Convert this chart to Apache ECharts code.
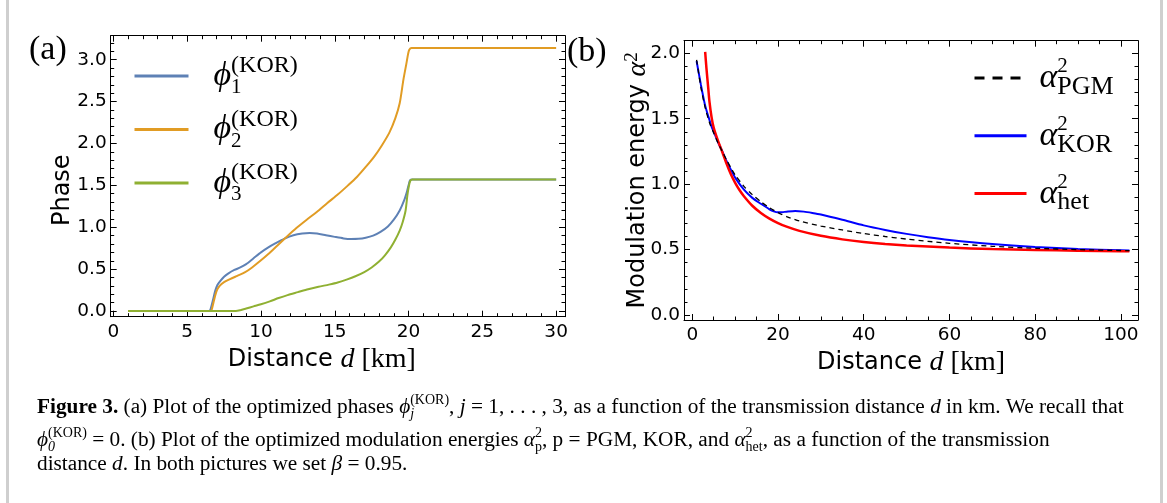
<!DOCTYPE html>
<html><head><meta charset="utf-8">
<script src="https://cdn.jsdelivr.net/npm/echarts@6/dist/echarts.min.js"></script>
<style>html,body{margin:0;padding:0;background:#fff}#c{width:1167px;height:503px}</style>
</head><body><div id="c"></div>
<script>
// ---------- Panel (a): optimized phases ----------
const phi1D = [1, 6.5, 6.6, 6.75, 6.9, 7.05, 7.25, 7.5, 7.8, 8.2, 8.6, 9.0, 9.5, 10.0, 10.5, 11.0, 11.6, 12.2, 12.8, 13.3, 13.8, 14.4, 15.0, 15.6, 16.1, 16.6, 17.1, 17.6, 18.1, 18.6, 19.0, 19.4, 19.7, 19.9, 20.0, 20.1, 20.25, 22, 26, 30];
const phi1V = [0, 0, 0.03, 0.13, 0.24, 0.31, 0.36, 0.41, 0.45, 0.49, 0.52, 0.56, 0.63, 0.70, 0.76, 0.81, 0.865, 0.905, 0.925, 0.93, 0.925, 0.905, 0.885, 0.867, 0.86, 0.862, 0.875, 0.9, 0.945, 1.01, 1.09, 1.2, 1.32, 1.43, 1.5, 1.56, 1.571, 1.571, 1.571, 1.571];
const phi2D = [1, 6.6, 6.7, 6.85, 7.0, 7.2, 7.5, 7.9, 8.4, 8.9, 9.4, 9.9, 10.5, 11.1, 11.75, 12.4, 13.1, 13.8, 14.5, 15.2, 15.9, 16.5, 17.1, 17.7, 18.2, 18.7, 19.1, 19.4, 19.65, 19.85, 19.97, 20.05, 20.2, 22, 26, 30];
const phi2V = [0, 0, 0.04, 0.15, 0.24, 0.3, 0.345, 0.38, 0.42, 0.46, 0.52, 0.59, 0.68, 0.78, 0.887, 0.99, 1.09, 1.185, 1.29, 1.39, 1.50, 1.6, 1.72, 1.85, 1.98, 2.13, 2.3, 2.48, 2.76, 2.95, 3.07, 3.12, 3.1416, 3.1416, 3.1416, 3.1416];
const phi3D = [1, 8.3, 8.6, 9.0, 9.5, 10.0, 10.6, 11.2, 11.8, 12.5, 13.2, 13.9, 14.6, 15.2, 15.8, 16.4, 17.0, 17.5, 18.0, 18.4, 18.8, 19.1, 19.4, 19.6, 19.8, 19.92, 20.02, 20.12, 20.25, 22, 26, 30];
const phi3V = [0, 0, 0.01, 0.03, 0.055, 0.08, 0.115, 0.155, 0.19, 0.225, 0.26, 0.29, 0.315, 0.34, 0.375, 0.415, 0.465, 0.52, 0.59, 0.665, 0.76, 0.85, 0.96, 1.06, 1.2, 1.38, 1.49, 1.555, 1.571, 1.571, 1.571, 1.571];
const aXTicks = [0, 5, 10, 15, 20, 25, 30];
const aYTicks = [0, 0.5, 1.0, 1.5, 2.0, 2.5, 3.0];

// ---------- Panel (b): modulation energies ----------
const pgmD = [1, 2, 3, 4, 5, 6, 7, 8, 9, 10, 12, 14, 16, 18, 20, 22, 25, 30, 35, 40, 45, 50, 55, 60, 70, 80, 90, 100, 102];
const pgmV = [1.95, 1.74, 1.585, 1.47, 1.39, 1.315, 1.25, 1.185, 1.125, 1.07, 0.985, 0.92, 0.865, 0.82, 0.782, 0.752, 0.718, 0.68, 0.65, 0.623, 0.6, 0.58, 0.563, 0.548, 0.525, 0.51, 0.5, 0.493, 0.492];
const korD = [1, 2, 3, 4, 4.5, 5, 6, 7, 8, 9, 10, 12, 14, 16, 18, 19, 20, 21, 22, 24, 26, 28, 30, 35, 40, 45, 50, 55, 60, 70, 80, 90, 100, 102];
const korV = [1.94, 1.76, 1.6, 1.49, 1.44, 1.4, 1.32, 1.25, 1.175, 1.11, 1.05, 0.96, 0.895, 0.85, 0.808, 0.792, 0.785, 0.786, 0.79, 0.795, 0.79, 0.78, 0.768, 0.728, 0.685, 0.65, 0.62, 0.594, 0.573, 0.542, 0.52, 0.505, 0.494, 0.493];
const hetD = [3, 3.3, 3.7, 4, 4.5, 5, 6, 7, 8, 9, 10, 11, 12, 14, 16, 18, 20, 22, 25, 30, 35, 40, 45, 50, 60, 70, 80, 90, 100, 102];
const hetV = [2.01, 1.885, 1.74, 1.63, 1.51, 1.43, 1.33, 1.245, 1.155, 1.075, 1.01, 0.955, 0.91, 0.835, 0.78, 0.737, 0.703, 0.675, 0.643, 0.605, 0.578, 0.558, 0.543, 0.532, 0.515, 0.504, 0.497, 0.492, 0.488, 0.487];
const bXTicks = [0, 20, 40, 60, 80, 100];
const bYTicks = [0, 0.5, 1.0, 1.5, 2.0];

function steps(a, b, s) { const r = []; for (let k = 0; a + k * s <= b + 1e-9; k++) r.push(Math.round((a + k * s) * 1000) / 1000); return r; }
function pairs(xs, ys) { return xs.map((x, i) => [x, ys[i]]); }

const SANS = '"DejaVu Sans", sans-serif';
const SERIF = '"Liberation Serif", "DejaVu Serif", serif';

function axesFor(dim, gridIndex, min, max, major, minor, fmt, nameOpts) {
  const pos = dim === 'x' ? ['bottom', 'top'] : ['left', 'right'];
  const out = [];
  pos.forEach((p, i) => {
    out.push(Object.assign({
      type: 'value', gridIndex, position: p, min, max,
      nameMoveOverlap: false,
      splitLine: { show: false },
      axisLine: { show: true, onZero: false, lineStyle: { color: '#000', width: 1 } },
      axisTick: { show: true, inside: true, length: 6, customValues: major, lineStyle: { color: '#000', width: 1 } },
      axisLabel: i === 0 ? { show: true, customValues: major, formatter: fmt, fontFamily: SANS, fontSize: 18.5, color: '#000', margin: dim === 'x' ? 6 : 4 } : { show: false }
    }, i === 0 ? nameOpts : {}));
    out.push({
      type: 'value', gridIndex, position: p, min, max,
      splitLine: { show: false },
      axisLine: { show: false, onZero: false },
      axisTick: { show: true, inside: true, length: 3.5, customValues: minor, lineStyle: { color: '#000', width: 1 } },
      axisLabel: { show: false }
    });
  });
  return out;
}

const nameRich = {
  t: { fontFamily: SANS, fontSize: 24, lineHeight: 30, verticalAlign: 'middle', color: '#000' },
  m: { fontFamily: SERIF, fontStyle: 'italic', fontSize: 28, lineHeight: 30, verticalAlign: 'middle', color: '#000' },
  s: { fontFamily: SERIF, fontSize: 28, lineHeight: 30, verticalAlign: 'middle', color: '#000' },
  sp: { fontFamily: SERIF, fontSize: 19, lineHeight: 12, verticalAlign: 'top', color: '#000' }
};
const fmt1 = v => v.toFixed(1);
const fmt0 = v => String(v);

const xAxes = [].concat(
  axesFor('x', 0, -0.18, 30.6, aXTicks, steps(0, 30, 1), fmt0,
    { name: '{t|Distance }{m|d}{s| [km]}', nameLocation: 'middle', nameGap: 28, nameTextStyle: { rich: nameRich, padding: [0, 32, 0, 0] } }),
  axesFor('x', 1, -1.94, 104, bXTicks, steps(0, 100, 5), fmt0,
    { name: '{t|Distance }{m|d}{s| [km]}', nameLocation: 'middle', nameGap: 28, nameTextStyle: { rich: nameRich } })
);
const yAxes = [].concat(
  axesFor('y', 0, -0.068, 3.287, aYTicks, steps(0, 3.2, 0.1), fmt1,
    { name: '{t|Phase}', nameLocation: 'middle', nameGap: 33, nameTextStyle: { rich: nameRich, padding: [0, 28, 0, 0] } }),
  axesFor('y', 1, -0.038, 2.096, bYTicks, steps(0, 2.0, 0.1), fmt1,
    { name: '{t|Modulation energy }{m|α}{sp|2}', nameLocation: 'middle', nameGap: 31, nameTextStyle: { rich: nameRich } })
);

const legRichA = {
  p: { fontFamily: SERIF, fontStyle: 'italic', fontSize: 34, lineHeight: 44, verticalAlign: 'middle', padding: [0, 0, 0, 20], color: '#000' },
  sbz: { fontFamily: SERIF, fontSize: 21, lineHeight: 24, width: 0, verticalAlign: 'bottom', color: '#000' },
  sp: { fontFamily: SERIF, fontSize: 24, lineHeight: 22, verticalAlign: 'top', color: '#000' }
};
const legRichB = {
  a: { fontFamily: SERIF, fontStyle: 'italic', fontSize: 34, lineHeight: 44, verticalAlign: 'middle', padding: [0, 0, 0, 8], color: '#000' },
  spz: { fontFamily: SERIF, fontSize: 21, lineHeight: 20, width: 0, verticalAlign: 'top', color: '#000' },
  sb: { fontFamily: SERIF, fontSize: 26, lineHeight: 28, verticalAlign: 'bottom', color: '#000' }
};

const capRich = {
  n: { fontFamily: SERIF, fontSize: 21.3, lineHeight: 28, verticalAlign: 'middle', color: '#111' },
  i: { fontFamily: SERIF, fontSize: 21.3, fontStyle: 'italic', lineHeight: 28, verticalAlign: 'middle', color: '#111' },
  b: { fontFamily: SERIF, fontSize: 21.3, fontWeight: 'bold', lineHeight: 28, verticalAlign: 'middle', color: '#111' },
  sp: { fontFamily: SERIF, fontSize: 14, lineHeight: 12, verticalAlign: 'top', color: '#111' },
  spz: { fontFamily: SERIF, fontSize: 14, lineHeight: 12, width: 0, verticalAlign: 'top', color: '#111' },
  sb: { fontFamily: SERIF, fontSize: 14, lineHeight: 14, verticalAlign: 'bottom', color: '#111' },
  sbz: { fontFamily: SERIF, fontSize: 14, fontStyle: 'italic', lineHeight: 14, width: 0, verticalAlign: 'bottom', color: '#111' }
};
const cap1 = '{b|Figure 3.}{n| (a) Plot of the optimized phases }{i|ϕ}{sbz|j}{sp|(KOR)}{n|, }{i|j}{n| = 1, . . . , 3, as a function of the transmission distance }{i|d}{n| in km. We recall that}';
const cap2 = '{i|ϕ}{sbz|0}{sp|(KOR)}{n| = 0. (b) Plot of the optimized modulation energies }{i|α}{spz|2}{sb|p}{n|, p = PGM, KOR, and }{i|α}{spz|2}{sb|het}{n|, as a function of the transmission}';
const cap3 = '{n|distance }{i|d}{n|. In both pictures we set }{i|β}{n| = 0.95.}';

const lineBase = { type: 'line', showSymbol: false, symbol: 'none', smooth: 0.25, animation: false };

const option = {
  animation: false,
  backgroundColor: '#fff',
  grid: [
    { left: 110.7, top: 35.7, width: 454.3, height: 281, containLabel: false },
    { left: 684, top: 40.7, width: 454, height: 279.3, containLabel: false }
  ],
  xAxis: xAxes,
  yAxis: yAxes,
  legend: [
    {
      data: ['phi1', 'phi2', 'phi3'], orient: 'vertical', left: 133, top: 54, padding: 0, itemWidth: 54, itemHeight: 14, itemGap: 9.5,
      selectedMode: false, itemStyle: { opacity: 0 }, lineStyle: { width: 3 },
      formatter: n => '{p|ϕ}{sbz|' + n.slice(3) + '}{sp|(KOR)}', textStyle: { rich: legRichA }
    },
    {
      data: [{ name: 'PGM', lineStyle: { width: 3, type: [10, 8] } }, { name: 'KOR' }, { name: 'het' }],
      orient: 'vertical', left: 973, top: 56, padding: 0, itemWidth: 52, itemHeight: 14, itemGap: 13.8,
      selectedMode: false, itemStyle: { opacity: 0 }, lineStyle: { width: 3 },
      formatter: n => '{a|α}{spz|2}{sb|' + n + '}', textStyle: { rich: legRichB }
    }
  ],
  series: [
    Object.assign({ name: 'phi1', xAxisIndex: 0, yAxisIndex: 0, data: pairs(phi1D, phi1V), color: '#5E81B5', lineStyle: { color: '#5E81B5', width: 2 } }, lineBase),
    Object.assign({ name: 'phi2', xAxisIndex: 0, yAxisIndex: 0, data: pairs(phi2D, phi2V), color: '#E19C24', lineStyle: { color: '#E19C24', width: 2 } }, lineBase),
    Object.assign({ name: 'phi3', xAxisIndex: 0, yAxisIndex: 0, data: pairs(phi3D, phi3V), color: '#8FB032', lineStyle: { color: '#8FB032', width: 2 } }, lineBase),
    Object.assign({ name: 'KOR', xAxisIndex: 4, yAxisIndex: 4, data: pairs(korD, korV), color: '#0000FF', lineStyle: { color: '#0000FF', width: 2 } }, lineBase),
    Object.assign({ name: 'het', xAxisIndex: 4, yAxisIndex: 4, data: pairs(hetD, hetV), color: '#FF0000', lineStyle: { color: '#FF0000', width: 2.5 } }, lineBase),
    Object.assign({ name: 'PGM', xAxisIndex: 4, yAxisIndex: 4, data: pairs(pgmD, pgmV), color: '#000', lineStyle: { color: '#000', width: 1.3, type: [5, 4] } }, lineBase)
  ],
  graphic: [
    { type: 'rect', shape: { x: 6, y: 0, width: 3, height: 503 }, style: { fill: '#cfcfcf' }, silent: true },
    { type: 'rect', shape: { x: 1160, y: 0, width: 3, height: 503 }, style: { fill: '#cfcfcf' }, silent: true },
    { type: 'text', x: 29, y: 50, style: { text: '(a)', font: '34px ' + SERIF, fill: '#000', verticalAlign: 'middle' } },
    { type: 'text', x: 567, y: 52, style: { text: '(b)', font: '34px ' + SERIF, fill: '#000', verticalAlign: 'middle' } },
    { type: 'text', x: 37, y: 407, style: { text: cap1, rich: capRich, verticalAlign: 'middle' } },
    { type: 'text', x: 37, y: 440, style: { text: cap2, rich: capRich, verticalAlign: 'middle' } },
    { type: 'text', x: 37, y: 464, style: { text: cap3, rich: capRich, verticalAlign: 'middle' } }
  ]
};
const chart = echarts.init(document.getElementById('c'), null, { renderer: 'canvas' });
chart.setOption(option);
</script></body></html>
